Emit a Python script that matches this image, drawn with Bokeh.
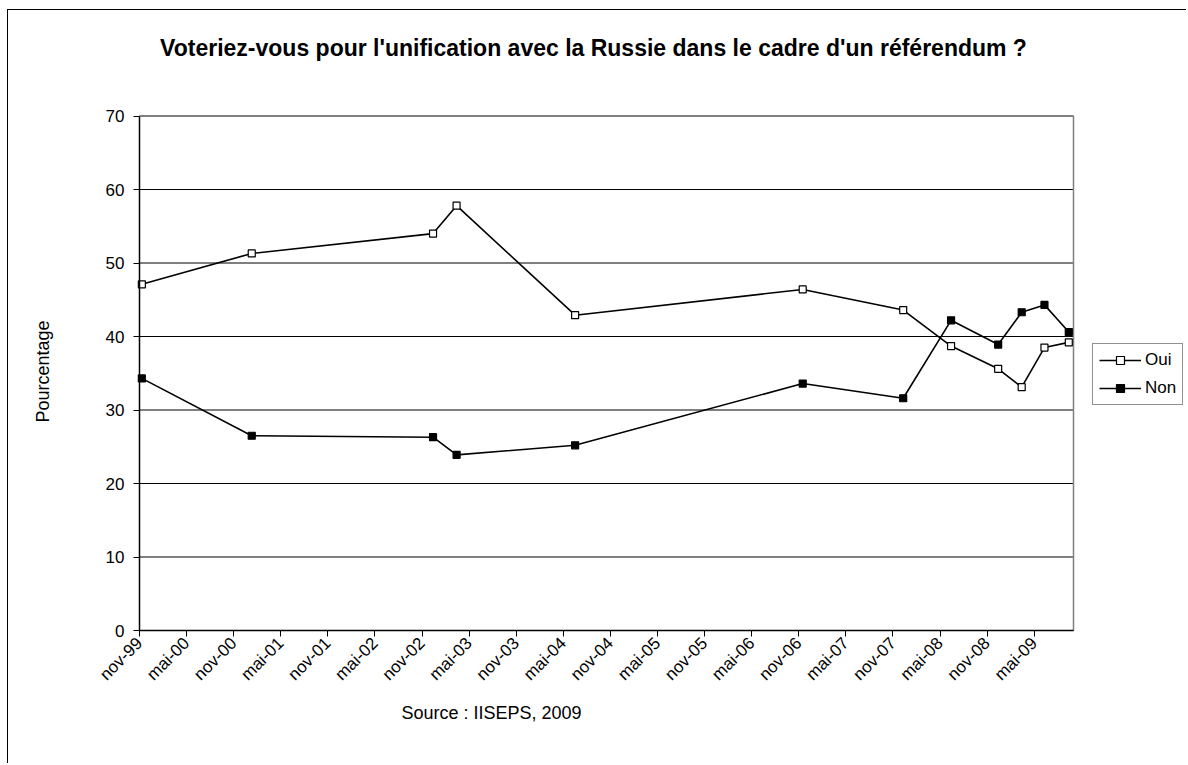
import math
from bokeh.plotting import figure
from bokeh.models import Range1d, FixedTicker, Legend, LegendItem, Label
from bokeh.embed import file_html
from bokeh.resources import INLINE

# ---- data ----
survey_dates = ["1999-11-10", "2001-01-10", "2002-12-13", "2003-03-13", "2004-06-16",
                "2006-11-16", "2007-12-10", "2008-06-13", "2008-12-13", "2009-03-13",
                "2009-06-10", "2009-09-13"]
oui = [47.1, 51.3, 54.0, 57.8, 42.9, 46.4, 43.6, 38.7, 35.6, 33.1, 38.5, 39.2]
non = [34.3, 26.5, 26.3, 23.9, 25.2, 33.6, 31.6, 42.2, 38.9, 43.3, 44.3, 40.6]
tick_labels = ["nov-99", "mai-00", "nov-00", "mai-01", "nov-01", "mai-02", "nov-02",
               "mai-03", "nov-03", "mai-04", "nov-04", "mai-05", "nov-05", "mai-06",
               "nov-06", "mai-07", "nov-07", "mai-08", "nov-08", "mai-09"]
y_ticks = [0, 10, 20, 30, 40, 50, 60, 70]


def months_since_start(d):
    y, m, dd = (int(v) for v in d.split("-"))
    return (y - 1999) * 12 + (m - 11) + (dd - 1) / 30.0


x = [months_since_start(d) for d in survey_dates]
tick_pos = [6 * i for i in range(len(tick_labels))]

FONT = "Liberation Sans"

# layout (pixels): the frame covers the whole canvas, the plot area sits inside it
W, H = 1179, 754
PA_LEFT, PA_BOTTOM = 131, 134          # plot-area offsets from canvas left / bottom
PA_W, PA_H = 934, 514.5                # plot-area size
X_MAX, Y_MAX = 119, 70
kx = PA_W / X_MAX
ky = PA_H / Y_MAX
x_range = Range1d(-PA_LEFT / kx, (W - PA_LEFT) / kx)
y_range = Range1d(-PA_BOTTOM / ky, (H - PA_BOTTOM) / ky)

p = figure(width=W, height=H, output_backend="svg", toolbar_location=None,
           x_range=x_range, y_range=y_range,
           min_border_left=0, min_border_right=0, min_border_top=0,
           min_border_bottom=0)
p.styles = {"margin-left": "7px", "margin-top": "9px",
            "border-left": "1px solid black", "border-top": "1px solid black",
            "border-right": "none", "border-bottom": "none"}

p.outline_line_color = None
p.background_fill_color = "white"
p.border_fill_color = "white"
p.xgrid.visible = False
p.ygrid.visible = False

# horizontal gridlines over the plot area
p.segment(x0=[0] * len(y_ticks), x1=[X_MAX] * len(y_ticks), y0=y_ticks, y1=y_ticks,
          line_color="black", line_width=1)
# plot-area border (top and right, gray)
p.segment(x0=[0, X_MAX], y0=[Y_MAX, 0], x1=[X_MAX, X_MAX], y1=[Y_MAX, Y_MAX],
          line_color="#808080", line_width=1.5)

p.yaxis.ticker = FixedTicker(ticks=y_ticks)
p.xaxis.ticker = FixedTicker(ticks=tick_pos)
p.xaxis.major_label_overrides = {t: lab for t, lab in zip(tick_pos, tick_labels)}
p.xaxis.major_label_orientation = math.pi / 4
p.xaxis.bounds = (0, X_MAX)
p.yaxis.bounds = (0, Y_MAX)
p.xaxis.fixed_location = 0
p.yaxis.fixed_location = 0

for ax in (p.xaxis[0], p.yaxis[0]):
    ax.axis_line_color = "black"
    ax.axis_line_width = 1.5
    ax.major_tick_line_color = "black"
    ax.major_tick_out = 6
    ax.major_tick_in = 0
    ax.minor_tick_line_color = None
    ax.major_label_text_font = FONT
    ax.major_label_text_font_size = "17px"
    ax.major_label_text_color = "black"
p.xaxis.major_label_standoff = 4
p.yaxis.major_label_standoff = 9

l1 = p.line(x, oui, line_color="black", line_width=1.6)
s1 = p.scatter(x, oui, marker="square", size=7, fill_color="white",
               line_color="black", line_width=1.2)
l2 = p.line(x, non, line_color="black", line_width=1.6)
s2 = p.scatter(x, non, marker="square", size=7, fill_color="black",
               line_color="black", line_width=1.2)

title = Label(x=585, y=717, x_units="screen", y_units="screen",
              text="Voteriez-vous pour l'unification avec la Russie dans le cadre d'un référendum ?",
              text_font=FONT, text_font_style="bold", text_font_size="23px",
              text_color="black", text_align="center", text_baseline="middle")
ylab = Label(x=34, y=393, x_units="screen", y_units="screen", angle=math.pi / 2,
             text="Pourcentage", text_font=FONT, text_font_size="18px",
             text_color="black", text_align="center", text_baseline="middle")
src = Label(x=483, y=52, x_units="screen", y_units="screen",
            text="Source : IISEPS, 2009", text_font=FONT, text_font_size="18px",
            text_color="black", text_align="center", text_baseline="middle")
for lab in (title, ylab, src):
    p.add_layout(lab)

legend = Legend(items=[LegendItem(label="Oui", renderers=[l1, s1]),
                       LegendItem(label="Non", renderers=[l2, s2])],
                location=(1084, 359))
legend.border_line_color = "#222222"
legend.border_line_width = 1
legend.background_fill_color = "white"
legend.label_text_font = FONT
legend.label_text_font_size = "17px"
legend.label_text_color = "black"
legend.glyph_width = 42
legend.glyph_height = 20
legend.padding = 6
legend.spacing = 8
legend.label_standoff = 4
legend.margin = 0
p.add_layout(legend)

open("out.html", "w").write(file_html(p, INLINE))
